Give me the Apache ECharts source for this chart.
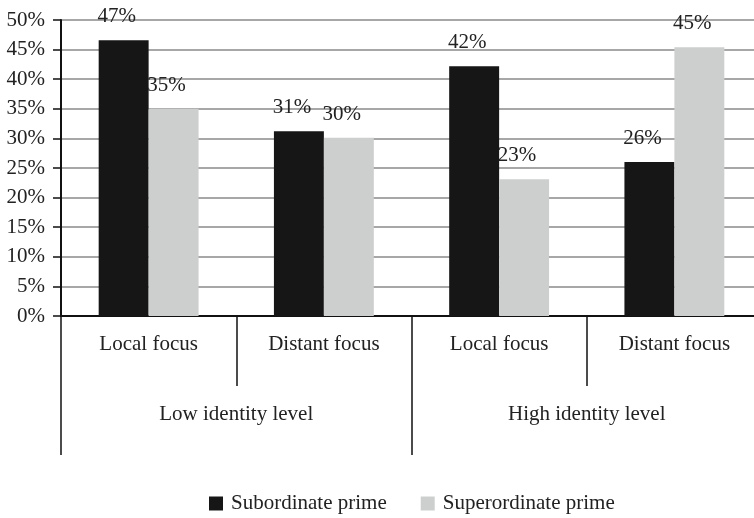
<!DOCTYPE html>
<html>
<head>
<meta charset="utf-8">
<script src="https://cdn.jsdelivr.net/npm/echarts@6/dist/echarts.min.js"></script>
<style>html,body{margin:0;padding:0;background:#fff;overflow:hidden;width:754px;height:518px}#c{width:762px;height:518px}</style>
</head>
<body>
<div id="c"></div>
<script>
var categories = ['Local focus', 'Distant focus', 'Local focus', 'Distant focus'];
var groups = ['Low identity level', 'High identity level'];
var subordinate = [46.6, 31.2, 42.2, 26.0];
var superordinate = [35.0, 30.1, 23.1, 45.4];
var seriesNames = ['Subordinate prime', 'Superordinate prime'];

var font = 'Liberation Serif';
var fs = 21;
var chart = echarts.init(document.getElementById('c'));
var lbl = {
  show: true, position: 'top', distance: 13, offset: [-7, 0],
  fontFamily: font, fontSize: fs, color: '#222',
  formatter: function (p) { return Math.round(p.value) + '%'; }
};
chart.setOption({
  animation: false,
  grid: { left: 61, right: 0, top: 20, bottom: 202, containLabel: false },
  legend: {
    left: 209, top: 493, padding: 0, itemWidth: 14, itemHeight: 14, itemGap: 34, icon: 'rect',
    textStyle: { fontFamily: font, fontSize: fs, color: '#222', padding: [0, 0, 0, 3] },
    data: seriesNames
  },
  xAxis: [
    {
      type: 'category', data: categories, position: 'bottom',
      axisLine: { lineStyle: { color: '#111', width: 2 } },
      axisTick: { show: true, length: 70, lineStyle: { color: '#111', width: 1.5 } },
      axisLabel: { margin: 18, fontFamily: font, fontSize: fs, color: '#222' },
      splitLine: { show: false }
    },
    {
      type: 'category', data: groups, position: 'bottom', gridIndex: 0,
      axisLine: { show: false },
      axisTick: { show: true, length: 139, lineStyle: { color: '#111', width: 1.5 } },
      axisLabel: { margin: 88, fontFamily: font, fontSize: fs, color: '#222' },
      splitLine: { show: false }
    }
  ],
  yAxis: {
    type: 'value', min: 0, max: 50, interval: 5,
    axisLine: { show: true, lineStyle: { color: '#111', width: 2 } },
    axisTick: { show: true, length: 8, lineStyle: { color: '#111', width: 1.5 } },
    axisLabel: { formatter: '{value}%', margin: 16, fontFamily: font, fontSize: fs, color: '#222' },
    splitLine: { lineStyle: { color: '#8a8a8a', width: 1.5 } }
  },
  series: [
    {
      name: seriesNames[0], type: 'bar', data: subordinate, xAxisIndex: 0,
      barGap: '0%', barCategoryGap: '43%',
      itemStyle: { color: '#161616' }, label: lbl
    },
    {
      name: seriesNames[1], type: 'bar', data: superordinate, xAxisIndex: 0,
      itemStyle: { color: '#cdcfce' }, label: lbl
    }
  ]
});
</script>
</body>
</html>
